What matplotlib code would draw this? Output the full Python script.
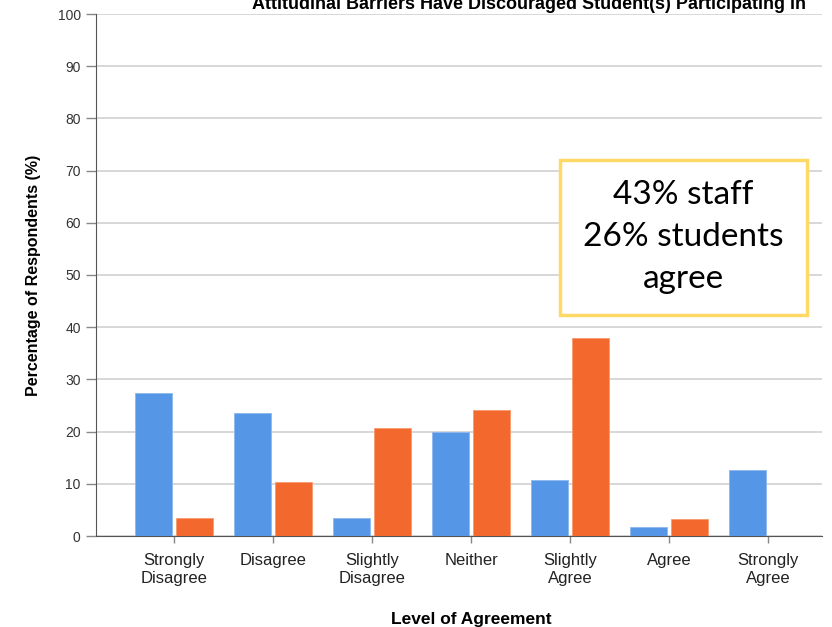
import numpy as np
import matplotlib
matplotlib.use('Agg')
import matplotlib.pyplot as plt
from matplotlib.patches import Rectangle

# values (percent of respondents)
categories = ['Strongly\nDisagree', 'Disagree', 'Slightly\nDisagree', 'Neither',
              'Slightly\nAgree', 'Agree', 'Strongly\nAgree']
staff = [27.3, 23.6, 3.5, 20.0, 10.8, 1.7, 12.6]
students = [3.4, 10.3, 20.6, 24.1, 38.0, 3.3, 0.0]
y_ticks = list(range(0, 101, 10))

title = 'Attitudinal Barriers Have Discouraged Student(s) Participating in'
note = '43% staff\n26% students\nagree'

plt.rcParams['font.family'] = ['Liberation Sans', 'DejaVu Sans']

fig = plt.figure(figsize=(8.32, 6.27), dpi=100)
ax = fig.add_axes([96 / 832, 91 / 627, 726 / 832, 522 / 627])

x = np.arange(len(categories))
w = 0.37
ax.bar(x - 0.207, staff, w, color='#5596E6', edgecolor='#8DB8EE', linewidth=0.6, zorder=3)
ax.bar(x + 0.207, [s if s > 0 else np.nan for s in students], w,
       color='#F3682C', edgecolor='#F79A6E', linewidth=0.6, zorder=3)

ax.set_xlim(-0.79, 6.545)
ax.set_ylim(0, 100)
ax.set_yticks(y_ticks)
ax.set_xticks(x)
ax.set_xticklabels(categories, fontsize=12, color='#222222', linespacing=1.25)
ax.tick_params(axis='y', labelsize=10, colors='#888888', labelcolor='#333333', length=7, width=1, pad=4)
ax.tick_params(axis='x', colors='#888888', labelcolor='#222222', length=5, width=1, pad=7)

ax.grid(axis='y', color='#D4D4D4', linewidth=1.3, zorder=0)
for s in ['top', 'right']:
    ax.spines[s].set_visible(False)
ax.spines['left'].set_color('#555555')
ax.spines['bottom'].set_color('#555555')

ax.set_ylabel('Percentage of Respondents (%)', fontsize=11.5, fontweight='bold', labelpad=12)
ax.set_xlabel('Level of Agreement', fontsize=12.5, fontweight='bold')
ax.xaxis.set_label_coords((471 - 96) / 726, -0.145)

fig.text((245 + 812) / 2 / 832, (627 - 9) / 627, title, ha='center', va='baseline', fontsize=13,
         fontweight='bold')

# yellow call-out box
fig.patches.append(Rectangle((560 / 832, 1 - 315 / 627), 247 / 832, 155 / 627,
                             transform=fig.transFigure, facecolor='white',
                             edgecolor='#FFD966', linewidth=2.5, zorder=5))
fig.text((560 + 807) / 2 / 832, 1 - (160 + 315) / 2 / 627, note, ha='center', va='center',
         fontsize=24, linespacing=1.5, family=['Lato', 'DejaVu Sans'], color='black', zorder=6)

fig.savefig('out.png', dpi=100)
